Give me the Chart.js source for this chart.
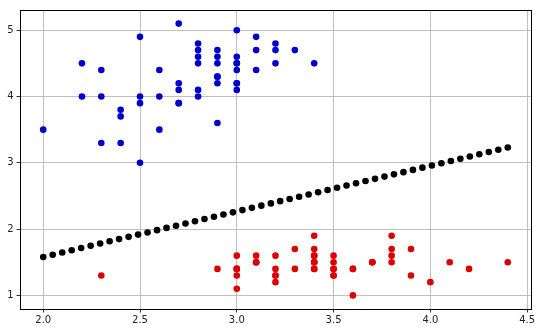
<!DOCTYPE html>
<html>
<head>
<meta charset="utf-8">
<script src="https://cdn.jsdelivr.net/npm/chart.js@4/dist/chart.umd.min.js"></script>
<style>
html,body{margin:0;padding:0;background:#fff;}
#wrap{width:540px;height:331px;}
</style>
</head>
<body>
<div id="wrap"><canvas id="c" width="540" height="331"></canvas></div>
<script>
// Blue class (sepal width, petal length)
const blueX = [3.2,3.2,3.1,2.3,2.8,2.8,3.3,2.4,2.9,2.7,2.0,3.0,2.2,2.9,2.9,3.1,3.0,2.7,2.2,2.5,3.2,2.8,2.5,2.8,2.9,3.0,2.8,3.0,2.9,2.6,2.4,2.4,2.7,2.7,3.0,3.4,3.1,2.3,3.0,2.5,2.6,3.0,2.6,2.3,2.7,3.0,2.9,2.9,2.5,2.8];
const blueY = [4.7,4.5,4.9,4.0,4.6,4.5,4.7,3.3,4.6,3.9,3.5,4.2,4.0,4.7,3.6,4.4,4.5,4.1,4.5,3.9,4.8,4.0,4.9,4.7,4.3,4.4,4.8,5.0,4.5,3.5,3.8,3.7,3.9,5.1,4.5,4.5,4.7,4.4,4.1,4.0,4.4,4.6,4.0,3.3,4.2,4.2,4.2,4.3,3.0,4.1];
// Red class
const redX = [3.5,3.0,3.2,3.1,3.6,3.9,3.4,3.4,2.9,3.1,3.7,3.4,3.0,3.0,4.0,4.4,3.9,3.5,3.8,3.8,3.4,3.7,3.6,3.3,3.4,3.0,3.4,3.5,3.4,3.2,3.1,3.4,4.1,4.2,3.1,3.2,3.5,3.6,3.0,3.4,3.5,2.3,3.2,3.5,3.8,3.0,3.8,3.2,3.7,3.3];
const redY = [1.4,1.4,1.3,1.5,1.4,1.7,1.4,1.5,1.4,1.5,1.5,1.6,1.4,1.1,1.2,1.5,1.3,1.4,1.7,1.5,1.7,1.5,1.0,1.7,1.9,1.6,1.6,1.5,1.4,1.6,1.6,1.5,1.5,1.4,1.5,1.2,1.3,1.4,1.3,1.5,1.3,1.3,1.3,1.6,1.9,1.4,1.6,1.4,1.5,1.4];
// Black boundary dots
const lineX = [2.000,2.049,2.098,2.147,2.196,2.245,2.294,2.343,2.392,2.441,2.490,2.539,2.588,2.637,2.686,2.735,2.784,2.833,2.882,2.931,2.980,3.029,3.078,3.127,3.176,3.224,3.273,3.322,3.371,3.420,3.469,3.518,3.567,3.616,3.665,3.714,3.763,3.812,3.861,3.910,3.959,4.008,4.057,4.106,4.155,4.204,4.253,4.302,4.351,4.400];
const lineY = [1.580,1.614,1.647,1.681,1.715,1.748,1.782,1.816,1.849,1.883,1.917,1.950,1.984,2.018,2.051,2.085,2.119,2.152,2.186,2.220,2.253,2.287,2.321,2.354,2.388,2.422,2.455,2.489,2.523,2.556,2.590,2.624,2.657,2.691,2.725,2.758,2.792,2.826,2.859,2.893,2.927,2.960,2.994,3.028,3.061,3.095,3.129,3.162,3.196,3.230];
const xTicks = [2.0,2.5,3.0,3.5,4.0,4.5];
const yTicks = [1,2,3,4,5];

const pts = (xs, ys) => xs.map((x, i) => ({x: x, y: ys[i]}));

const frame = {
  id: 'frame',
  afterDraw(chart) {
    const a = chart.chartArea, ctx = chart.ctx;
    ctx.save();
    ctx.strokeStyle = '#000';
    ctx.lineWidth = 1;
    ctx.strokeRect(Math.round(a.left) + 0.5, Math.round(a.top) + 0.5, Math.round(a.right - a.left), Math.round(a.bottom - a.top));
    ctx.restore();
  }
};

new Chart(document.getElementById('c'), {
  type: 'scatter',
  data: {
    datasets: [
      {data: pts(blueX, blueY), backgroundColor: '#0000cd', borderColor: '#0000cd', pointRadius: 3.3, borderWidth: 0},
      {data: pts(redX, redY), backgroundColor: '#dd0000', borderColor: '#dd0000', pointRadius: 3.3, borderWidth: 0},
      {data: pts(lineX, lineY), backgroundColor: '#000', borderColor: '#000', pointRadius: 3.3, borderWidth: 0}
    ]
  },
  options: {
    responsive: false,
    animation: false,
    layout: {padding: {top: 10, right: 9, left: 0, bottom: 0}},
    plugins: {legend: {display: false}, tooltip: {enabled: false}},
    scales: {
      x: {
        type: 'linear', min: 1.88, max: 4.52,
        afterBuildTicks: s => { s.ticks = xTicks.map(v => ({value: v})); },
        afterFit: s => { s.height = 22; },
        grid: {color: '#b0b0b0', lineWidth: 0.8, tickColor: '#000', tickLength: 3.5},
        border: {display: false},
        ticks: {color: '#222', padding: 2, font: {family: 'DejaVu Sans', size: 10}, maxRotation: 0,
          callback: v => v.toFixed(1)}
      },
      y: {
        type: 'linear', min: 0.795, max: 5.305,
        afterBuildTicks: s => { s.ticks = yTicks.map(v => ({value: v})); },
        afterFit: s => { s.width = 20; },
        grid: {color: '#b0b0b0', lineWidth: 0.8, tickColor: '#000', tickLength: 3.5},
        border: {display: false},
        ticks: {color: '#222', padding: 3, font: {family: 'DejaVu Sans', size: 10},
          callback: v => String(v)}
      }
    }
  },
  plugins: [frame]
});
</script>
</body>
</html>
